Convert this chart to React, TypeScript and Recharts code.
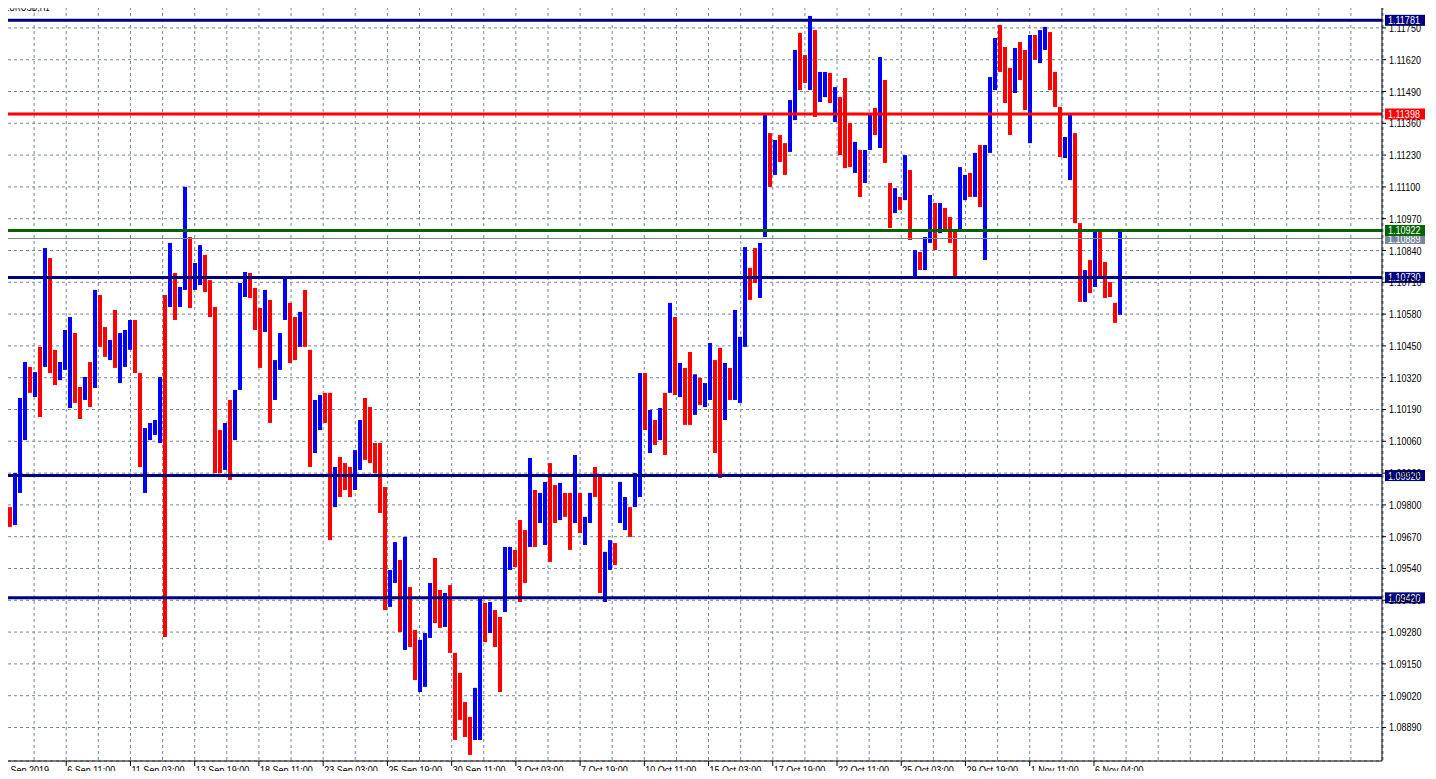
import {
  Bar,
  Cell,
  ComposedChart,
  CartesianGrid,
  ReferenceLine,
  XAxis,
  YAxis,
} from "recharts";

const FONT = "'Liberation Sans', Arial, sans-serif";
const NARROW = 0.82; // horizontal squeeze to mimic the narrow terminal font

// EURUSD H1, grouped in 5-hour slots (high / low / 1 = up bar, 0 = down bar)
const highs = [
  1.09767, 1.09791, 1.0993, 1.10237, 1.10384, 1.10364, 1.10343, 1.10446, 1.1085, 1.10809,
  1.10434, 1.10384, 1.10515, 1.10568, 1.10503, 1.10282, 1.10323, 1.10384, 1.10679, 1.10658,
  1.10527, 1.10474, 1.10597, 1.10503, 1.10515, 1.10556, 1.10556, 1.10339, 1.10114, 1.10135,
  1.10147, 1.10323, 1.10658, 1.10871, 1.10748, 1.10691, 1.111, 1.10895, 1.10789, 1.10862,
  1.10822, 1.10719, 1.10609, 1.10106, 1.10135, 1.10229, 1.1027, 1.10707, 1.10752, 1.10748,
  1.10687, 1.10605, 1.10679, 1.10638, 1.10392, 1.10503, 1.10732, 1.10626, 1.10568, 1.10589,
  1.10679, 1.10434, 1.10229, 1.10249, 1.10258, 1.10258, 1.09955, 1.09996, 1.09971, 1.09955,
  1.10024, 1.10147, 1.10237, 1.102, 1.10053, 1.10053, 1.09873, 1.09534, 1.09648, 1.09575,
  1.09669, 1.09464, 1.09289, 1.09248, 1.09276, 1.09481, 1.09583, 1.09452, 1.0944, 1.09472,
  1.09195, 1.09113, 1.08994, 1.08933, 1.09052, 1.09423, 1.09399, 1.09403, 1.0937, 1.09342,
  1.09628, 1.09628, 1.09616, 1.09738, 1.09697, 1.09992, 1.09861, 1.09849, 1.09894, 1.09971,
  1.09881, 1.0989, 1.09849, 1.09849, 1.10004, 1.09849, 1.09751, 1.09849, 1.09955, 1.09914,
  1.09608, 1.09656, 1.09644, 1.09894, 1.09832, 1.09791, 1.0993, 1.10339, 1.10339, 1.10188,
  1.10147, 1.10196, 1.10258, 1.10626, 1.10568, 1.1038, 1.1036, 1.10425, 1.10334, 1.10319,
  1.10298, 1.10462, 1.10392, 1.10442, 1.1038, 1.1036, 1.10597, 1.10487, 1.10854, 1.10769,
  1.1085, 1.10871, 1.11394, 1.1132, 1.11292, 1.11312, 1.11279, 1.11455, 1.1166, 1.11729,
  1.11639, 1.11799, 1.11741, 1.1157, 1.1157, 1.11566, 1.11508, 1.11467, 1.11545, 1.11361,
  1.11284, 1.11251, 1.11251, 1.11394, 1.11423, 1.11631, 1.11537, 1.11116, 1.11095, 1.11059,
  1.1123, 1.11169, 1.10842, 1.10834, 1.10895, 1.11067, 1.11034, 1.11034, 1.11014, 1.10977,
  1.10924, 1.11181, 1.11149, 1.11157, 1.11239, 1.11271, 1.11271, 1.11549, 1.11709, 1.11762,
  1.11672, 1.11586, 1.11668, 1.11692, 1.1166, 1.11721, 1.11721, 1.11741, 1.11754, 1.11733,
  1.1157, 1.11427, 1.11304, 1.11394, 1.1132, 1.10952, 1.1076, 1.10801, 1.10916, 1.10916,
  1.10793, 1.10711, 1.10626, 1.10916,
];

const lows = [
  1.0964, 1.0971, 1.09718, 1.09849, 1.10065, 1.10258, 1.10241, 1.10159, 1.10364, 1.10339,
  1.1029, 1.1031, 1.10352, 1.10196, 1.10217, 1.10151, 1.10229, 1.102, 1.10278, 1.10446,
  1.10405, 1.10392, 1.1036, 1.10298, 1.10364, 1.10434, 1.10339, 1.09955, 1.09849, 1.10065,
  1.10086, 1.10053, 1.0926, 1.10609, 1.10556, 1.10609, 1.10679, 1.10605, 1.10679, 1.10699,
  1.1067, 1.10568, 1.0993, 1.0993, 1.09943, 1.09902, 1.10065, 1.1027, 1.1065, 1.10646,
  1.10515, 1.1036, 1.10507, 1.10135, 1.10229, 1.10352, 1.10556, 1.1038, 1.10392, 1.10446,
  1.10446, 1.09955, 1.10012, 1.10106, 1.10135, 1.09656, 1.09791, 1.09832, 1.09861, 1.09832,
  1.09861, 1.09943, 1.09984, 1.09971, 1.0993, 1.09767, 1.0937, 1.09383, 1.09481, 1.0928,
  1.09207, 1.09219, 1.09084, 1.09035, 1.09056, 1.09256, 1.09317, 1.09297, 1.09301, 1.09195,
  1.08839, 1.08921, 1.08851, 1.08778, 1.08839, 1.08839, 1.09239, 1.09276, 1.09219, 1.09035,
  1.09362, 1.09534, 1.09546, 1.09403, 1.09481, 1.09628, 1.09628, 1.09726, 1.09636, 1.09567,
  1.09726, 1.09738, 1.09751, 1.09616, 1.09726, 1.09685, 1.09636, 1.09726, 1.09832, 1.0944,
  1.09403, 1.09534, 1.09554, 1.09726, 1.09697, 1.09669, 1.09791, 1.09832, 1.10106, 1.10012,
  1.10045, 1.10065, 1.10004, 1.10258, 1.10249, 1.10241, 1.10127, 1.10127, 1.10168, 1.10208,
  1.102, 1.10229, 1.10012, 1.0991, 1.10147, 1.10229, 1.10229, 1.10217, 1.10446, 1.10638,
  1.10707, 1.10646, 1.10895, 1.111, 1.11149, 1.11202, 1.11149, 1.11243, 1.11373, 1.11496,
  1.11525, 1.11496, 1.11386, 1.11447, 1.11467, 1.11443, 1.11365, 1.1123, 1.11177, 1.11181,
  1.11157, 1.11059, 1.11116, 1.11251, 1.11312, 1.11259, 1.11198, 1.10932, 1.10993, 1.11006,
  1.11046, 1.10883, 1.10732, 1.1076, 1.1076, 1.10871, 1.10842, 1.10911, 1.10924, 1.10871,
  1.10732, 1.10924, 1.11046, 1.11059, 1.11059, 1.11018, 1.10801, 1.11239, 1.11496, 1.1157,
  1.11443, 1.11312, 1.11484, 1.11537, 1.11414, 1.11279, 1.11619, 1.11606, 1.1166, 1.11496,
  1.11427, 1.11222, 1.11218, 1.11128, 1.10952, 1.1063, 1.1063, 1.10666, 1.10691, 1.10732,
  1.10646, 1.1065, 1.10544, 1.10577,
];

const bullish = [
  1, 0, 1, 1, 1, 0, 1, 0, 1, 0, 0, 1, 1, 1, 0, 0, 1, 0, 1, 0,
  0, 1, 0, 1, 1, 1, 0, 0, 1, 1, 1, 1, 0, 1, 0, 1, 1, 0, 1, 1,
  0, 0, 0, 0, 1, 0, 1, 1, 1, 0, 0, 0, 1, 0, 1, 1, 1, 0, 0, 1,
  0, 0, 1, 1, 0, 0, 1, 0, 0, 0, 1, 1, 0, 0, 0, 0, 0, 1, 1, 0,
  1, 0, 0, 1, 1, 1, 0, 0, 1, 0, 0, 0, 0, 0, 1, 1, 0, 1, 0, 0,
  1, 1, 0, 0, 0, 1, 0, 1, 1, 0, 0, 1, 0, 0, 1, 0, 1, 1, 0, 0,
  1, 1, 0, 1, 1, 0, 1, 1, 0, 1, 0, 1, 0, 1, 0, 1, 0, 0, 1, 0,
  1, 1, 0, 0, 1, 0, 1, 1, 1, 0, 0, 1, 1, 0, 1, 0, 0, 1, 1, 0,
  0, 1, 0, 1, 1, 0, 1, 0, 0, 0, 1, 0, 1, 1, 0, 1, 0, 0, 1, 0,
  1, 0, 1, 0, 1, 1, 0, 1, 0, 0, 0, 1, 1, 0, 1, 0, 1, 1, 1, 0,
  0, 0, 1, 0, 0, 1, 0, 1, 1, 0, 0, 0, 1, 1, 0, 0, 1, 0, 1, 0,
  0, 0, 0, 1,
];

const dateLabels = [
  "3 Sep 2019", "6 Sep 11:00", "11 Sep 03:00", "13 Sep 19:00", "18 Sep 11:00",
  "23 Sep 03:00", "25 Sep 19:00", "30 Sep 11:00", "3 Oct 03:00", "7 Oct 19:00",
  "10 Oct 11:00", "15 Oct 03:00", "17 Oct 19:00", "22 Oct 11:00", "25 Oct 03:00",
  "29 Oct 19:00", "1 Nov 11:00", "6 Nov 04:00",
];

const priceTicks = [
  1.0889, 1.0902, 1.0915, 1.0928, 1.0941, 1.0954, 1.0967, 1.098, 1.0993, 1.1006,
  1.1019, 1.1032, 1.1045, 1.1058, 1.1071, 1.1084, 1.1097, 1.111, 1.1123, 1.1136,
  1.1149, 1.1162, 1.1175,
];

const levels = [
  { price: 1.11781, color: "#000080" },
  { price: 1.11398, color: "#ff0000" },
  { price: 1.10922, color: "#006400" },
  { price: 1.1073, color: "#000080" },
  { price: 1.0992, color: "#000080" },
  { price: 1.0942, color: "#000080" },
];
const bid = 1.10889;

const SLOT_HOURS = 5; // each slot groups five H1 bars
const SLOTS = 276; // slots across the window (one H1 bar per pixel)

const rows = Array.from({ length: SLOTS }, (_, i) =>
  i < highs.length
    ? { i, range: [lows[i], highs[i]], up: bullish[i] === 1 }
    : { i, range: null, up: false }
);

// grid every 32 hours, date label every 64 hours (time axis counted in slots)
const timeTicks = Array.from({ length: 44 }, (_, k) => (k * 32) / SLOT_HOURS);
const labelFor = (v: number) => {
  const k = Math.round((v * SLOT_HOURS) / 32);
  return k % 2 === 0 ? dateLabels[k / 2] : undefined;
};

// default tickSize 6 + tickMargin 2 below the axis line
function TimeTick(props: any) {
  const { x, y, payload } = props;
  const label = labelFor(payload.value);
  if (!label) return <g />;
  return (
    <g>
      <line x1={x} y1={y - 8} x2={x} y2={y - 3} stroke="#000" />
      <text
        transform={`translate(${x + 1},${y + 5}) scale(${NARROW},1)`}
        fontSize={11}
        fontFamily={FONT}
        fill="#000"
      >
        {label}
      </text>
    </g>
  );
}

function PriceTick(props: any) {
  const { x, y, payload } = props;
  return (
    <text
      transform={`translate(${x},${y + 4}) scale(${NARROW},1)`}
      fontSize={11}
      fontFamily={FONT}
      fill="#000"
    >
      {Number(payload.value).toFixed(5)}
    </text>
  );
}

function PriceTag(props: any) {
  const { viewBox, price, color } = props;
  const x = viewBox.x + viewBox.width + 3;
  const y = viewBox.y;
  return (
    <g>
      <rect x={x} y={y - 5.5} width={40} height={11} fill={color} />
      <text
        transform={`translate(${x + 3},${y + 4}) scale(${NARROW},1)`}
        fontSize={11}
        fontFamily={FONT}
        fill="#fff"
      >
        {price.toFixed(5)}
      </text>
    </g>
  );
}

export default function App() {
  return (
    <div
      style={{
        position: "relative",
        margin: -8,
        width: 1436,
        height: 779,
        background: "#fff",
        overflow: "hidden",
      }}
    >
      <ComposedChart
        width={1436}
        height={779}
        data={rows}
        margin={{ top: 1, right: 0, bottom: 0, left: 2 }}
      >
        <CartesianGrid stroke="#778899" strokeDasharray="3 3" />
        <XAxis
          type="number"
          domain={[0, SLOTS]}
          allowDataOverflow
          ticks={timeTicks}
          interval={0}
          tick={<TimeTick />}
          tickLine={false}
          tickSize={6}
          tickMargin={2}
          height={18}
          axisLine={{ stroke: "#000" }}
        />
        <XAxis xAxisId="slots" dataKey="i" hide />
        <YAxis
          orientation="right"
          domain={[1.08753, 1.1186]}
          allowDataOverflow
          ticks={priceTicks}
          interval={0}
          width={54}
          tickSize={4}
          tickMargin={3}
          axisLine={{ stroke: "#000" }}
          tickLine={{ stroke: "#000" }}
          tick={<PriceTick />}
        />
        <Bar xAxisId="slots" dataKey="range" barSize={4} isAnimationActive={false}>
          {rows.map((r) => (
            <Cell key={r.i} fill={r.up ? "#0000ff" : "#ff0000"} />
          ))}
        </Bar>
        <ReferenceLine
          y={bid}
          stroke="#778899"
          strokeWidth={1}
          label={<PriceTag price={bid} color="#778899" />}
        />
        {levels.map((l) => (
          <ReferenceLine
            key={l.price}
            y={l.price}
            stroke={l.color}
            strokeWidth={3}
            label={<PriceTag price={l.price} color={l.color} />}
          />
        ))}
      </ComposedChart>
      <div
        style={{
          position: "absolute",
          left: 2,
          top: 1,
          width: 1380,
          height: 760,
          borderLeft: "1px solid #000",
          borderTop: "1px solid #000",
          pointerEvents: "none",
        }}
      />
      <span
        style={{
          position: "absolute",
          left: 4,
          top: 2,
          zIndex: 1,
          fontSize: 11,
          lineHeight: "11px",
          fontFamily: FONT,
          color: "#000",
          transform: "scaleX(0.72)",
          transformOrigin: "left top",
          whiteSpace: "nowrap",
        }}
      >
        EURUSD,H1
      </span>
    </div>
  );
}
